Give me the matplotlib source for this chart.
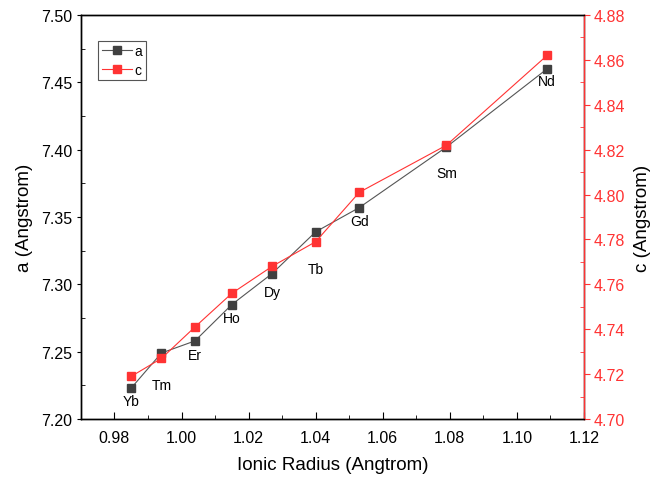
import numpy as np
import matplotlib.pyplot as plt
from matplotlib.ticker import MultipleLocator

plt.rcParams['font.family'] = ['Liberation Sans', 'DejaVu Sans']

# data
elements = ['Yb', 'Tm', 'Er', 'Ho', 'Dy', 'Tb', 'Gd', 'Sm', 'Nd']
radius = [0.985, 0.994, 1.004, 1.015, 1.027, 1.040, 1.053, 1.079, 1.109]
a_param = [7.223, 7.249, 7.258, 7.285, 7.308, 7.339, 7.357, 7.402, 7.460]
c_param = [4.719, 4.727, 4.741, 4.756, 4.768, 4.779, 4.801, 4.822, 4.862]

# label offsets below the points (points)
label_dy = [-9.5, -23, -10, -10, -13, -27, -10, -19, -8.5]

dark = '#404040'
red = '#ff3333'

fig = plt.figure(figsize=(6.58, 4.85), dpi=100)
ax = fig.add_axes([0.123, 0.134, 0.7645, 0.833])
ax2 = ax.twinx()

l1, = ax.plot(radius, a_param, color='#555555', lw=0.8, marker='s', ms=6.3,
              mfc=dark, mec=dark, label='a')
l2, = ax2.plot(radius, c_param, color=red, lw=0.8, marker='s', ms=6.3,
               mfc=red, mec=red, label='c')

for x, y, name, dy in zip(radius, a_param, elements, label_dy):
    ax.annotate(name, (x, y), xytext=(0, dy), textcoords='offset points',
                ha='center', va='center', fontsize=10)

ax.set_xlim(0.97, 1.12)
ax.set_ylim(7.20, 7.50)
ax2.set_ylim(4.70, 4.88)

ax.xaxis.set_major_locator(MultipleLocator(0.02))
ax.xaxis.set_minor_locator(MultipleLocator(0.01))
ax.yaxis.set_major_locator(MultipleLocator(0.05))
ax.yaxis.set_minor_locator(MultipleLocator(0.025))
ax2.yaxis.set_major_locator(MultipleLocator(0.02))
ax2.yaxis.set_minor_locator(MultipleLocator(0.01))

ax.xaxis.set_major_formatter(plt.FormatStrFormatter('%.2f'))
ax.yaxis.set_major_formatter(plt.FormatStrFormatter('%.2f'))
ax2.yaxis.set_major_formatter(plt.FormatStrFormatter('%.2f'))

ax.tick_params(axis='x', which='major', direction='in', length=5, labelsize=11.5, pad=8)
ax.tick_params(axis='x', which='minor', direction='in', length=3)
ax.tick_params(axis='y', which='major', direction='out', length=3, labelsize=11.5, pad=3)
ax.tick_params(axis='y', which='minor', direction='in', length=3)
ax2.tick_params(axis='y', which='major', direction='out', length=4, labelsize=11.5,
                pad=3, colors=red)
ax2.tick_params(axis='y', which='minor', direction='in', length=3, colors=red)

for a in (ax, ax2):
    for s in a.spines.values():
        s.set_linewidth(1.0)
ax2.spines['right'].set_color(red)

ax.set_xlabel('Ionic Radius (Angtrom)', fontsize=13.5, labelpad=8)
ax.set_ylabel('a (Angstrom)', fontsize=13.5, labelpad=6)
ax2.set_ylabel('c (Angstrom)', fontsize=13.5, labelpad=6)

leg = ax.legend(handles=[l1, l2], loc='upper left', bbox_to_anchor=(0.034, 0.936),
                borderaxespad=0, fontsize=10, handlelength=2.2, handletextpad=0.2,
                borderpad=0.25, labelspacing=0.3, fancybox=False, framealpha=1,
                edgecolor='#555555')
leg.get_frame().set_linewidth(0.8)

fig.savefig('out.png', dpi=100)
